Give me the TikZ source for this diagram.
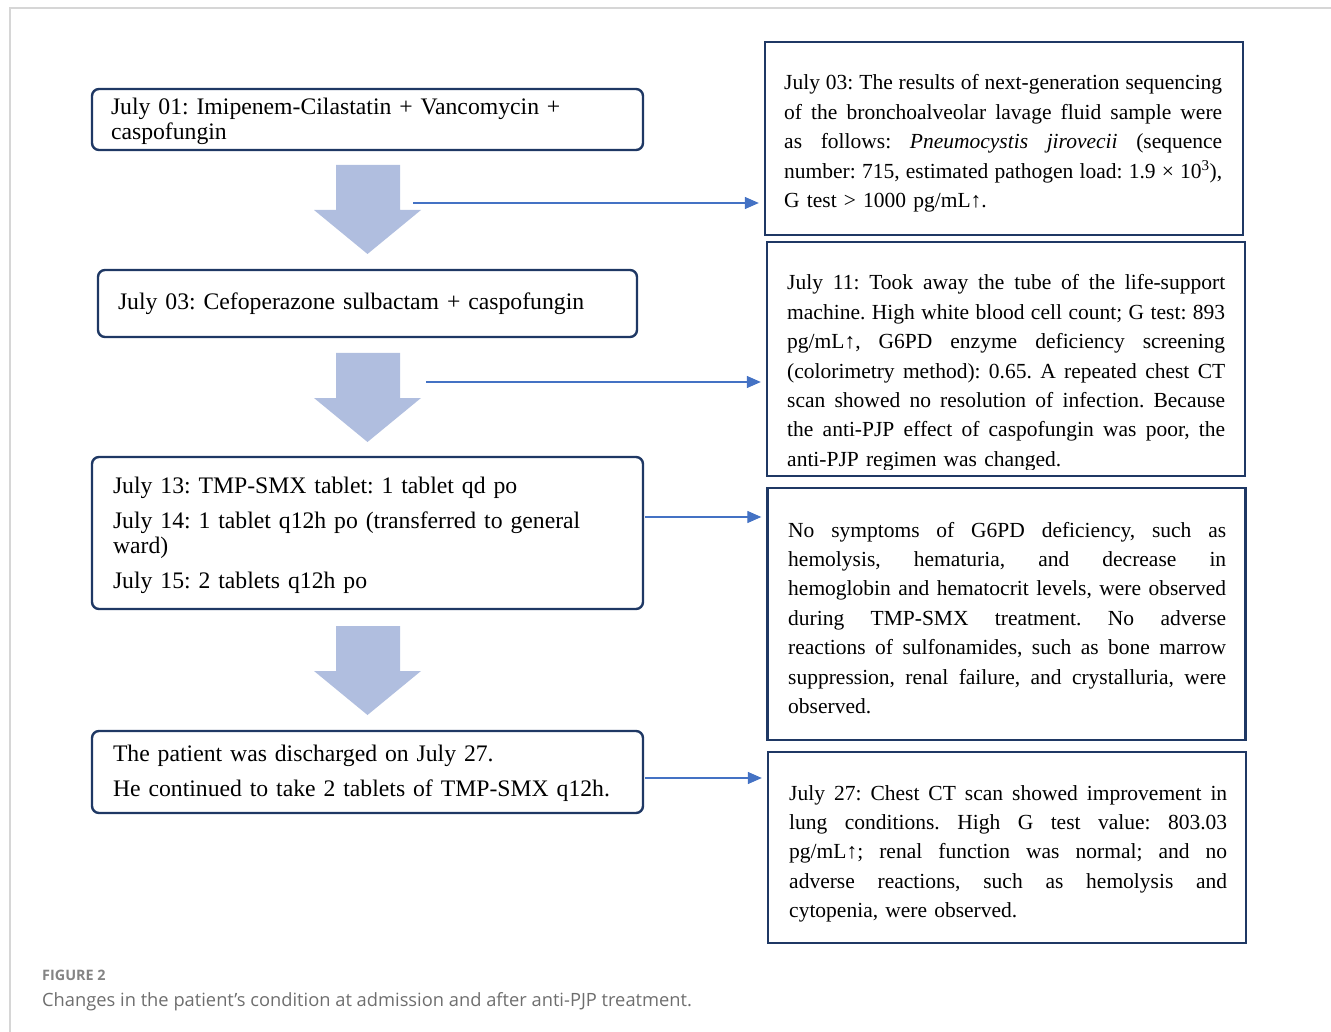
\documentclass[tikz,border=0pt]{standalone}
\usepackage{fontspec}
\setmainfont{Liberation Serif}
\newfontfamily\capfont{Open Sans}
\usetikzlibrary{arrows.meta}

\definecolor{boxnavy}{HTML}{1F3864}
\definecolor{flowfill}{HTML}{B0BEDF}
\definecolor{linkblue}{HTML}{4472C4}
\definecolor{framegray}{HTML}{D6D6D6}
\definecolor{capgray}{HTML}{6E6E6E}

% one justified line of a note
\newcommand\jline[1]{\hbox to 438pt{\spaceskip=.25em plus 1fil minus .1em\relax #1}}

\tikzset{
  stagebox/.style={draw=boxnavy, line width=2.4pt, rounded corners=7pt,
    inner xsep=21pt, inner ysep=0pt, align=left,
    font=\fontsize{23.7}{25}\selectfont\frenchspacing},
  notebox/.style={draw=boxnavy, line width=2.4pt, minimum width=478pt},
  notetext/.style={text width=438pt, inner sep=0pt, anchor=base west,
    font=\fontsize{21.5}{29.4}\selectfont\frenchspacing},
  link/.style={draw=linkblue, line width=1.3pt, shorten >=5pt,
    -{Triangle[length=14pt,width=12pt]}},
}

\begin{document}
\begin{tikzpicture}[x=1pt,y=-1pt]
\useasboundingbox (0,0) rectangle (1331,1032);
% panel frame
\draw[framegray, line width=1.5pt] (10,1032) -- (10,8) -- (1331,8);

% treatment stages
\node[stagebox, inner xsep=19pt, text width=513pt, minimum height=61pt] (stage1) at (367.5,119.5)
  {\rule{0pt}{20pt}July 01: Imipenem-Cilastatin + Vancomycin +\\caspofungin};
\node[stagebox, inner xsep=20pt, text width=499pt, minimum height=67pt] (stage2) at (367.5,303.5)
  {July 03: Cefoperazone sulbactam + caspofungin};
\node[stagebox, text width=509pt, minimum height=152pt] (stage3) at (367.5,533)
  {\rule{0pt}{22pt}July 13: TMP-SMX tablet: 1 tablet qd po\\[10pt]
   July 14: 1 tablet q12h po (transferred to general\\ward)\\[10pt]
   July 15: 2 tablets q12h po};
\node[stagebox, text width=509pt, minimum height=82pt] (stage4) at (367.5,772)
  {\rule{0pt}{20pt}The patient was discharged on July 27.\\[10pt]
   He continued to take 2 tablets of TMP-SMX q12h.};

% block arrows between stages
\foreach \t in {165,353,626}
  \fill[flowfill] (336,\t) -- (400,\t) -- (400,\t+45) -- (421,\t+45)
    -- (367.5,\t+89) -- (314,\t+45) -- (336,\t+45) -- cycle;

% notes
\node[notebox, minimum width=478pt, minimum height=193pt] (note1) at (1004,138.5) {};
\node[notetext] at (784,90) {%
  \jline{July 03: The results of next-generation sequencing}
  \jline{of the bronchoalveolar lavage fluid sample were}
  \jline{as follows: \textit{Pneumocystis jirovecii} (sequence}
  \jline{number: 715, estimated pathogen load: 1.9 × 10\textsuperscript{3}),}
  \hbox{G test > 1000 pg/mL↑.}};

\node[notebox, minimum height=234pt] (note2) at (1006,359) {};
\begin{scope}
\clip (767,242) rectangle (1245,469);
\node[notetext] at (787,290) {%
  \jline{July 11: Took away the tube of the life-support}
  \jline{machine. High white blood cell count; G test: 893}
  \jline{pg/mL↑, G6PD enzyme deficiency screening}
  \jline{(colorimetry method): 0.65. A repeated chest CT}
  \jline{scan showed no resolution of infection. Because}
  \jline{the anti-PJP effect of caspofungin was poor, the}
  \hbox{anti-PJP regimen was changed.}};
\end{scope}

\node[notebox, minimum height=252pt] (note3) at (1006.5,614) {};
\node[notetext] at (788,537) {%
  \jline{No symptoms of G6PD deficiency, such as}
  \jline{hemolysis, hematuria, and decrease in}
  \jline{hemoglobin and hematocrit levels, were observed}
  \jline{during TMP-SMX treatment. No adverse}
  \jline{reactions of sulfonamides, such as bone marrow}
  \jline{suppression, renal failure, and crystalluria, were}
  \hbox{observed.}};

\node[notebox, minimum height=191pt] (note4) at (1007,847.5) {};
\node[notetext] at (789,800) {%
  \jline{July 27: Chest CT scan showed improvement in}
  \jline{lung conditions. High G test value: 803.03}
  \jline{pg/mL↑; renal function was normal; and no}
  \jline{adverse reactions, such as hemolysis and}
  \hbox{cytopenia, were observed.}};

% links from stages to notes
\coordinate (from1) at (413,203);
\coordinate (from2) at (426,382);
\coordinate (from3) at (645,517);
\coordinate (from4) at (645,778);
\draw[link] (from1) -- (from1 -| note1.west);
\draw[link] (from2) -- (from2 -| note2.west);
\draw[link] (from3) -- (from3 -| note3.west);
\draw[link] (from4) -- (from4 -| note4.west);

% caption
\node[anchor=base west, inner sep=0pt, text=capgray!85,
  font=\capfont\bfseries\fontsize{14.4}{16}\selectfont] (figlabel) at (42,980) {FIGURE 2};
\node[anchor=base west, inner sep=0pt, text=capgray,
  font=\capfont\fontsize{18.3}{20}\selectfont] (figcaption) at (42,1006)
  {Changes in the patient’s condition at admission and after anti-PJP treatment.};
\end{tikzpicture}
\end{document}
